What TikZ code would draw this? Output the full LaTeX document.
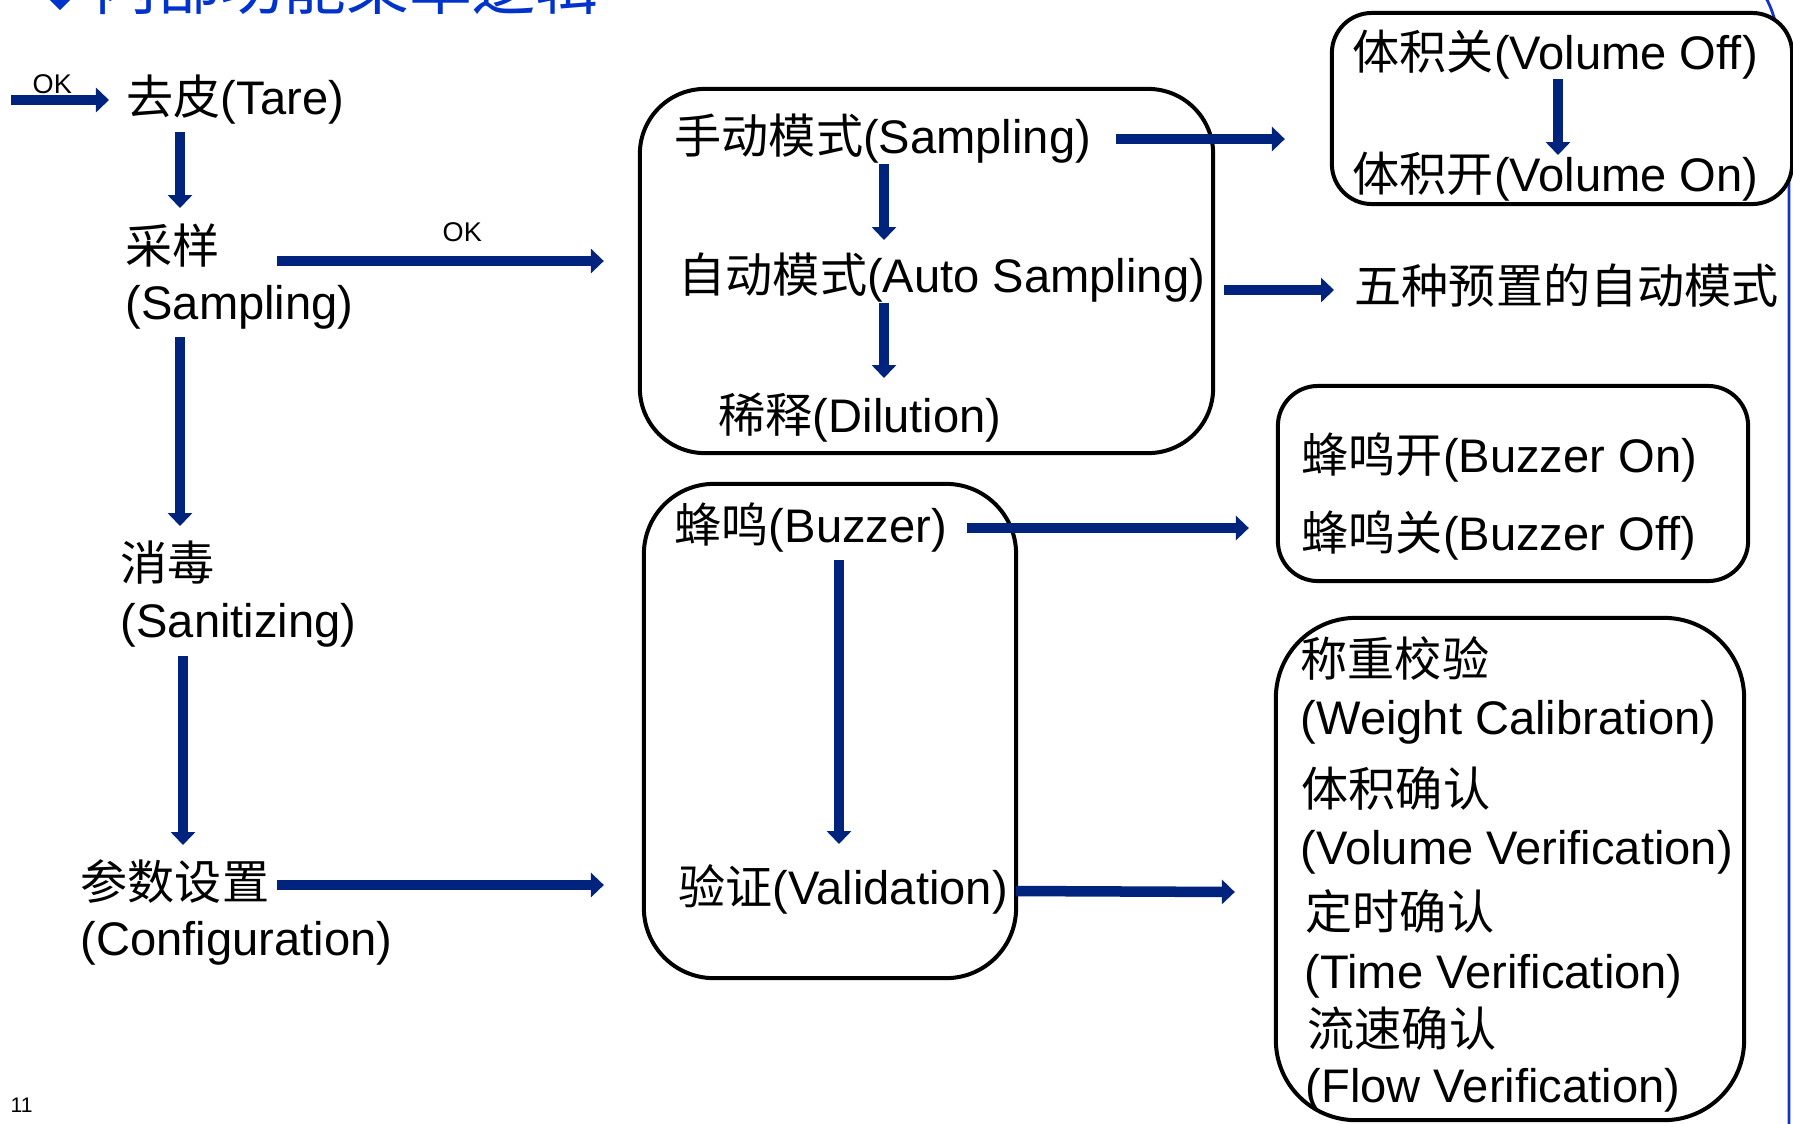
\documentclass[tikz,border=0pt]{standalone}
\usepackage{fontspec}
\setmainfont{Liberation Sans}
\newfontfamily\cjkf{Noto Sans CJK SC}
\usetikzlibrary{arrows.meta,calc}
\definecolor{navy}{RGB}{0,36,125}
\definecolor{titleblue}{RGB}{0,51,204}
\definecolor{edgeblue}{RGB}{20,50,200}
\newcommand{\zh}[1]{{\cjkf #1}}
\begin{document}
\begin{tikzpicture}[x=0.01cm,y=-0.01cm,
  txt/.style={inner sep=0pt, anchor=base west, font=\fontsize{13.4pt}{16pt}\selectfont},
  small/.style={inner sep=0pt, anchor=base west, font=\fontsize{7.7pt}{9pt}\selectfont},
  rbox/.style={draw=black, line width=0.04cm, fill=white, inner sep=0pt},
  arr/.style={draw=navy, line width=0.105cm, -{Triangle[width=0.24cm,length=0.13cm]}}]
\useasboundingbox (0,0) rectangle (1793,1123);
\clip (0,0) rectangle (1793,1123);
\fill[white] (0,0) rectangle (1793,1123);
% slide frame line on the right
\draw[edgeblue, line width=0.028cm] (1766,-2) .. controls (1784,30) and (1789,100) .. (1789,200) -- (1789,1130);
% title (cut off at the top, as in the reference)
\node[anchor=base west, inner sep=0pt, text=titleblue, font=\cjkf\fontsize{17.9pt}{20pt}\selectfont] (title) at (94,9) {内部功能菜单逻辑};
\fill[titleblue] ($(title.base west)+(-34,1)$) -- ++(11,-11) -- ++(-11,-11) -- ++(-11,11) -- cycle;
% boxes
\node[rbox, minimum width=5.73cm, minimum height=3.64cm, rounded corners=0.65cm] (boxS) at (926.5,271) {};
\node[rbox, minimum width=4.60cm, minimum height=1.91cm, rounded corners=0.4cm] (boxV) at (1562,108.5) {};
\node[rbox, minimum width=3.72cm, minimum height=4.94cm, rounded corners=0.7cm] (boxB) at (830,731) {};
\node[rbox, minimum width=4.70cm, minimum height=1.95cm, rounded corners=0.4cm] (boxBZ) at (1513,483.5) {};
\node[rbox, minimum width=4.68cm, minimum height=5.02cm, rounded corners=0.8cm] (boxVer) at (1510,869) {};
% left column
\node[small] (ok1) at (32,93) {OK};
\coordinate (okin) at (11,100);
\node[txt] (tare) at (126,114) {\zh{去皮}(Tare)};
\node[txt] (samp1) at (125,263) {\zh{采样}};
\node[txt] (samp2) at (125,319) {(Sampling)};
\node[small] (ok2) at (442,241) {OK};
\node[txt] (san1) at (120,580) {\zh{消毒}};
\node[txt] (san2) at (120,637) {(Sanitizing)};
\node[txt] (cfg1) at (80,899) {\zh{参数设置}};
\node[txt] (cfg2) at (80,955) {(Configuration)};
% middle
\node[txt] (man) at (674,153) {\zh{手动模式}(Sampling)};
\node[txt] (auto) at (678,292) {\zh{自动模式}(Auto Sampling)};
\node[txt] (dil) at (718,432) {\zh{稀释}(Dilution)};
\node[txt] (buz) at (674,542) {\zh{蜂鸣}(Buzzer)};
\node[txt] (val) at (678,904) {\zh{验证}(Validation)};
% right
\node[txt] (voff) at (1352,69) {\zh{体积关}(Volume Off)};
\node[txt] (von) at (1352,191) {\zh{体积开}(Volume On)};
\node[txt] (five) at (1354,303) {\zh{五种预置的自动模式}};
\node[txt] (bzon) at (1301,472) {\zh{蜂鸣开}(Buzzer On)};
\node[txt] (bzoff) at (1301,550) {\zh{蜂鸣关}(Buzzer Off)};
\node[txt] (wc1) at (1300,676) {\zh{称重校验}};
\node[txt] (wc2) at (1300,734) {(Weight Calibration)};
\node[txt] (vv1) at (1301,806) {\zh{体积确认}};
\node[txt] (vv2) at (1300,864) {(Volume Verification)};
\node[txt] (tv1) at (1305,929) {\zh{定时确认}};
\node[txt] (tv2) at (1304,988) {(Time Verification)};
\node[txt] (fv1) at (1307,1046) {\zh{流速确认}};
\node[txt] (fv2) at (1305,1102) {(Flow Verification)};
% page number
\node[anchor=base west, inner sep=0pt, font=\fontsize{6pt}{7pt}\selectfont] (pg) at (10,1112) {11};
% arrows
\draw[arr] (okin) -- ($(tare.base west)+(-17,-14)$);
\draw[arr] ($(tare.base west)+(54,18)$) -- ($(samp1.base west)+(55,-55)$);
\draw[arr] ($(samp1.base west)+(152,-2)$) -- ($(boxS.west)+(-34,-10)$);
\draw[arr] ($(samp2.base west)+(55,18)$) -- ($(san1.base west)+(60,-54)$);
\draw[arr] ($(san2.base west)+(63,19)$) -- ($(cfg1.base west)+(103,-54)$);
\draw[arr] ($(cfg1.base west)+(197,-14)$) -- ($(boxB.west)+(-38,154)$);
\draw[arr] ($(man.base west)+(210,11)$) -- ($(auto.base west)+(206,-52)$);
\draw[arr] ($(auto.base west)+(206,11)$) -- ($(dil.base west)+(166,-54)$);
\draw[arr] ($(man.base west)+(442,-14)$) -- ($(boxV.west)+(-45,30.5)$);
\draw[arr] ($(auto.base west)+(546,-2)$) -- ($(five.base west)+(-20,-13)$);
\draw[arr] ($(voff.base west)+(206,10)$) -- ($(von.base west)+(206,-36)$);
\draw[arr] ($(buz.base west)+(165,18)$) -- ($(val.base west)+(161,-60)$);
\draw[arr] ($(buz.base west)+(293,-14)$) -- ($(boxBZ.west)+(-27,44.5)$);
\draw[arr] ($(val.base west)+(338,-13)$) -- ($(boxVer.west)+(-39,23)$);
\end{tikzpicture}
\end{document}
